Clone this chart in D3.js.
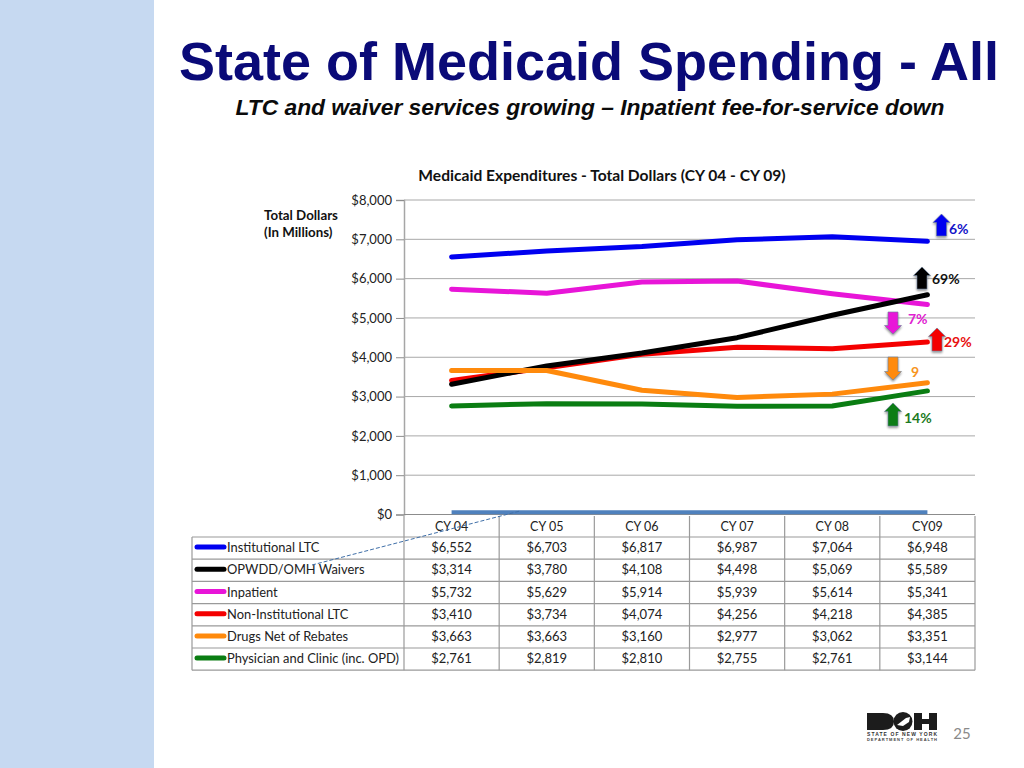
<!DOCTYPE html>
<html><head><meta charset="utf-8">
<script src="https://cdn.jsdelivr.net/npm/d3@7"></script>
<style>html,body{margin:0;padding:0;background:#fff;overflow:hidden}svg{display:block}text{font-family:Lato,"Open Sans",sans-serif}</style>
</head><body><div id="c"></div>
<script>
const categories = ["CY 04","CY 05","CY 06","CY 07","CY 08","CY09"];
const seriesNames = ["Institutional LTC","OPWDD/OMH Waivers","Inpatient","Non-Institutional LTC","Drugs Net of Rebates","Physician and Clinic (inc. OPD)"];
const seriesColors = ["#0000f0","#000000","#e815d8","#f40000","#ff8a0c","#0a7d12"];
const institutional = [6552,6703,6817,6987,7064,6948];
const waivers = [3314,3780,4108,4498,5069,5589];
const inpatient = [5732,5629,5914,5939,5614,5341];
const nonInstitutional = [3410,3734,4074,4256,4218,4385];
const drugs = [3663,3663,3160,2977,3062,3351];
const physician = [2761,2819,2810,2755,2761,3144];
const baseline = [60,60,60,60,60,60];
const yTicks = [0,1000,2000,3000,4000,5000,6000,7000,8000];
const seriesValues = [institutional,waivers,inpatient,nonInstitutional,drugs,physician];

const W=1024,H=768;
const svg=d3.select("#c").append("svg").attr("width",W).attr("height",H);
const defs=svg.append("defs");
const f=defs.append("filter").attr("id","sh").attr("x","-40%").attr("y","-40%").attr("width","180%").attr("height","180%");
f.append("feDropShadow").attr("dx",0).attr("dy",1.5).attr("stdDeviation",1.2).attr("flood-color","#000").attr("flood-opacity",.45);

svg.append("rect").attr("x",0).attr("y",0).attr("width",154).attr("height",H).attr("fill","#c6d9f1");

svg.append("text").attr("x",589).attr("y",80).attr("text-anchor","middle")
  .style("font-family","'Liberation Sans',Arial,sans-serif").style("font-weight",700).style("font-size","54px").attr("fill","#0a0a78")
  .text("State of Medicaid Spending - All");
svg.append("text").attr("x",590).attr("y",115).attr("text-anchor","middle")
  .style("font-family","'Liberation Sans',Arial,sans-serif").style("font-weight",700).style("font-style","italic").style("font-size","22.8px").attr("fill","#0b0b0b")
  .text("LTC and waiver services growing – Inpatient fee-for-service down");

svg.append("text").attr("x",602).attr("y",181).attr("text-anchor","middle").style("font-weight",700).style("font-size","15.6px").attr("fill","#111")
  .text("Medicaid Expenditures - Total Dollars (CY 04 - CY 09)");
svg.append("text").attr("x",264).attr("y",220).style("font-weight",700).style("font-size","13.3px").attr("fill","#111").text("Total Dollars");
svg.append("text").attr("x",264).attr("y",237).style("font-weight",700).style("font-size","13.3px").attr("fill","#111").text("(In Millions)");

const x=d3.scaleBand().domain(categories).range([404,975]);
const y=d3.scaleLinear().domain([0,8000]).range([514.5,200]);

const yAxis=d3.axisLeft(y).tickValues(yTicks).tickFormat(d=>"$"+d3.format(",")(d)).tickSize(8).tickPadding(4);
const ga=svg.append("g").attr("transform","translate(404,0)").call(yAxis);
ga.select(".domain").attr("stroke","#a6a6a6").attr("stroke-width",1.5);
ga.selectAll(".tick line").attr("stroke","#8c8c8c").attr("stroke-width",1);
ga.selectAll("text").style("font-size","13px").attr("fill","#222").style("font-family","Lato,sans-serif");
svg.append("g").selectAll("line").data(yTicks).join("line")
  .attr("x1",404).attr("x2",975).attr("y1",d=>y(d)).attr("y2",d=>y(d))
  .attr("stroke",d=>d===0?"#8c8c8c":"#a8a8a8").attr("stroke-width",1);

const tTop=516,tMid=537,rowH=22.2,tLeft=192,tRight=975;
const tg=svg.append("g");
const rows=d3.range(seriesNames.length+1);
tg.selectAll("line.h").data(rows).join("line").attr("class","h")
  .attr("x1",tLeft).attr("x2",tRight).attr("y1",i=>tMid+i*rowH).attr("y2",i=>tMid+i*rowH)
  .attr("stroke","#9a9a9a").attr("stroke-width",1.2);
tg.append("line").attr("x1",tLeft).attr("x2",tLeft).attr("y1",tMid).attr("y2",tMid+6*rowH).attr("stroke","#9a9a9a").attr("stroke-width",1.2);
tg.selectAll("line.v").data(categories).join("line").attr("class","v")
  .attr("x1",c=>x(c)).attr("x2",c=>x(c)).attr("y1",tTop).attr("y2",tMid+6*rowH).attr("stroke","#9a9a9a").attr("stroke-width",1.2);
tg.append("line").attr("x1",tRight).attr("x2",tRight).attr("y1",tTop).attr("y2",tMid+6*rowH).attr("stroke","#9a9a9a").attr("stroke-width",1.2);
tg.selectAll("text.cat").data(categories).join("text").attr("class","cat")
  .attr("x",c=>x(c)+x.bandwidth()/2).attr("y",531).attr("text-anchor","middle").style("font-size","12.5px").attr("fill","#222").text(c=>c);
const fmt=d=>"$"+d3.format(",")(d);
seriesNames.forEach((n,i)=>{
  const cy=tMid+i*rowH+rowH/2;
  tg.append("line").attr("x1",197).attr("x2",224).attr("y1",cy-1).attr("y2",cy-1)
    .attr("stroke",seriesColors[i]).attr("stroke-width",5).attr("stroke-linecap","round");
  tg.append("text").attr("x",227).attr("y",cy+4).style("font-size","12.9px").attr("fill","#222").text(n);
  tg.selectAll("text.v"+i).data(seriesValues[i]).join("text").attr("class","v"+i)
    .attr("x",(d,j)=>x(categories[j])+x.bandwidth()/2).attr("y",cy+4).attr("text-anchor","middle")
    .style("font-size","13px").attr("fill","#222").text(fmt);
});

const line=d3.line().x((d,i)=>x(categories[i])+x.bandwidth()/2).y(d=>y(d));
svg.append("path").attr("d",line(baseline)).attr("fill","none").attr("stroke","#4f81bd").attr("stroke-width",4);
svg.append("line").attr("x1",312).attr("y1",565).attr("x2",520).attr("y2",511).attr("stroke","#3f6fa8").attr("stroke-width",1).attr("stroke-dasharray","4 2");
const order=[3,0,2,1,5,4];
order.forEach(i=>{
  svg.append("path").attr("d",line(seriesValues[i])).attr("fill","none")
   .attr("stroke",seriesColors[i]).attr("stroke-width",5).attr("stroke-linecap","round").attr("stroke-linejoin","round");
});

function arrow(cx,top,bottom,color,up){
  const hw=8.5,sw=5,hh=8.5;
  const p=up?[[cx,top],[cx+hw,top+hh],[cx+sw,top+hh],[cx+sw,bottom],[cx-sw,bottom],[cx-sw,top+hh],[cx-hw,top+hh]]
           :[[cx,bottom],[cx+hw,bottom-hh],[cx+sw,bottom-hh],[cx+sw,top],[cx-sw,top],[cx-sw,bottom-hh],[cx-hw,bottom-hh]];
  svg.append("polygon").attr("points",p.join(" ")).attr("fill",color).attr("filter","url(#sh)").attr("stroke","#6a7f99").attr("stroke-opacity",.6);
}
const notes=[
 {cx:941.5,top:214,bottom:236,up:true,c:"#0000f0",tc:"#1414c8",t:"6%",lx:949,ly:234},
 {cx:922,top:267,bottom:289,up:true,c:"#000",tc:"#111",t:"69%",lx:932,ly:284},
 {cx:893,top:312,bottom:334,up:false,c:"#e815d8",tc:"#e020d0",t:"7%",lx:908,ly:324},
 {cx:937,top:328,bottom:351,up:true,c:"#f40000",tc:"#e81010",t:"29%",lx:944,ly:347},
 {cx:893,top:357,bottom:380,up:false,c:"#ff8a0c",tc:"#f7941d",t:"9",lx:911,ly:377},
 {cx:893,top:403,bottom:426,up:true,c:"#0a7d12",tc:"#1c7a22",t:"14%",lx:904,ly:423}
];
notes.forEach(n=>{
  arrow(n.cx,n.top,n.bottom,n.c,n.up);
  svg.append("text").attr("x",n.lx).attr("y",n.ly).style("font-weight",700).style("font-size","14px").attr("fill",n.tc).text(n.t);
});

const lg=svg.append("g");
const dk="#1c1c1c";
lg.append("path").attr("fill",dk).attr("d","M867 713h16q11 0 11 8.500t-11 8.500h-16z");
lg.append("circle").attr("cx",903).attr("cy",721.5).attr("r",9.5).attr("fill",dk);
lg.append("path").attr("fill","#fff").attr("d","M897 725l9-7 4-1-1 5-6 4z");
lg.append("path").attr("fill",dk).attr("d","M914 713h8v6h7v-6h8v17h-8v-6h-7v6h-8z");
lg.append("text").attr("x",902).attr("y",736).attr("text-anchor","middle").style("font-family","'Liberation Sans',sans-serif").style("font-size","5px").style("font-weight",700).attr("fill","#333").attr("textLength",70).text("STATE OF NEW YORK");
lg.append("text").attr("x",902).attr("y",741).attr("text-anchor","middle").style("font-family","'Liberation Sans',sans-serif").style("font-size","4px").style("font-weight",700).attr("fill","#444").attr("textLength",70).text("DEPARTMENT OF HEALTH");
svg.append("text").attr("x",962).attr("y",739).attr("text-anchor","middle").style("font-size","15px").attr("fill","#8a8a8a").text("25");
</script></body></html>
